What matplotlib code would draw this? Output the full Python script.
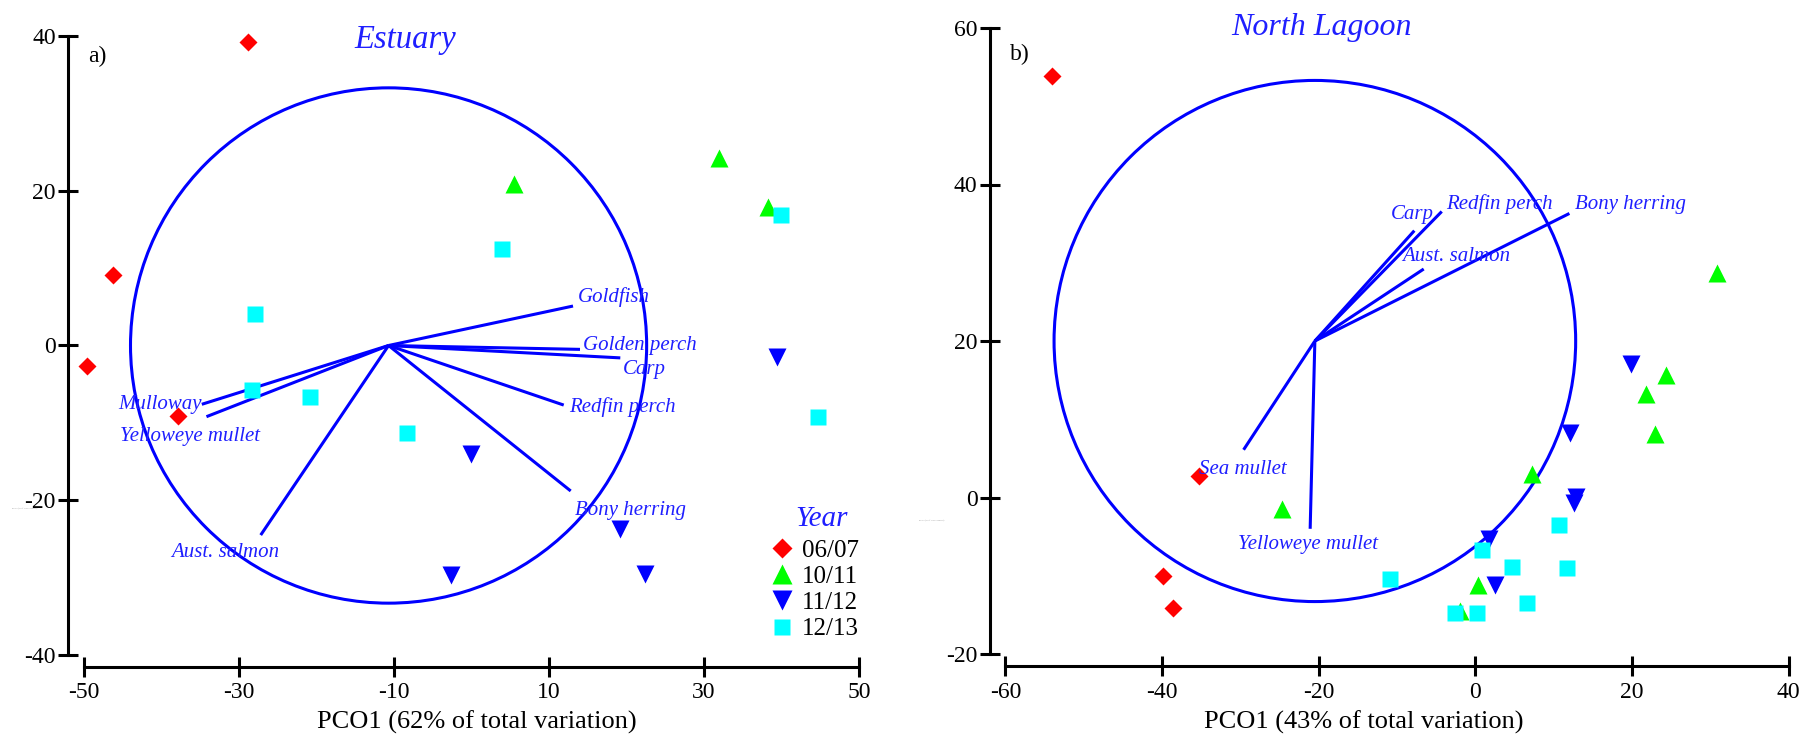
import matplotlib
matplotlib.use("Agg")
import matplotlib.pyplot as plt
from matplotlib.patches import Circle
from matplotlib.lines import Line2D

plt.rcParams['font.family'] = ['Liberation Serif', 'DejaVu Serif']
plt.rcParams['axes.unicode_minus'] = False

# ---------------- data ----------------
years = ["06/07", "10/11", "11/12", "12/13"]

# Estuary PCO scores
est_0607_x = [-28.8, -46.2, -49.6, -37.9]
est_0607_y = [39.2, 9.15, -2.7, -9.1]
est_1011_x = [5.45, 31.9, 38.3]
est_1011_y = [20.9, 24.2, 17.9]
est_1112_x = [0.0, -2.7, 19.2, 39.4, 22.4]
est_1112_y = [-14.0, -29.6, -23.7, -1.5, -29.5]
est_1213_x = [-27.9, -28.3, -20.9, -8.3, 3.9, 39.9, 44.7]
est_1213_y = [4.1, -5.8, -6.6, -11.3, 12.5, 16.9, -9.2]

# Estuary species vectors
est_species = ["Goldfish", "Golden perch", "Carp", "Redfin perch",
               "Bony herring", "Mulloway", "Yelloweye mullet", "Aust. salmon"]
est_vec_x = [13.1, 14.0, 19.2, 11.9, 12.8, -34.8, -34.2, -27.2]
est_vec_y = [5.1, -0.5, -1.6, -7.7, -18.8, -7.6, -9.2, -24.5]
est_origin = (-10.7, 0.0)
est_radius = 33.3

# North Lagoon PCO scores
nl_0607_x = [-54.1, -35.25, -39.85, -38.65]
nl_0607_y = [53.9, 2.7, -10.0, -14.1]
nl_1011_x = [-24.7, 7.2, 0.3, -1.95, 30.8, 24.3, 21.8, 22.9]
nl_1011_y = [-1.5, 3.0, -11.2, -14.5, 28.7, 15.6, 13.2, 8.1]
nl_1112_x = [12.9, 12.6, 1.7, 2.5, 19.9, 12.1]
nl_1112_y = [0.1, -0.7, -5.3, -11.2, 17.1, 8.2]
nl_1213_x = [0.8, 4.65, 10.7, 11.75, -10.9, 6.6, -2.6, 0.25]
nl_1213_y = [-6.7, -8.9, -3.5, -9.0, -10.4, -13.5, -14.7, -14.8]

# North Lagoon species vectors
nl_species = ["Carp", "Redfin perch", "Aust. salmon", "Bony herring",
              "Sea mullet", "Yelloweye mullet"]
nl_vec_x = [-7.8, -4.3, -6.6, 12.0, -29.6, -21.1]
nl_vec_y = [34.1, 36.55, 29.2, 36.3, 6.1, -4.0]
nl_origin = (-20.5, 20.0)
nl_radius = 33.3

# ---------------- layout / style ----------------
est_label_pos = [(13.7, 6.2), (14.4, 0.05), (19.5, -3.05), (12.6, -8.0),
                 (13.35, -21.3), (-45.6, -7.6), (-45.3, -11.7), (-38.7, -26.8)]
nl_label_pos = [(-10.8, 36.2), (-3.7, 37.5), (-9.3, 30.8), (12.7, 37.5),
                (-35.25, 3.6), (-30.3, -6.0)]

year_styles = [
    dict(marker='D', color='#ff0000', ms=9.2),
    dict(marker='^', color='#00ff00', ms=12.5),
    dict(marker='v', color='#0000ff', ms=12.5),
    dict(marker='s', color='#00ffff', ms=12.0),
]
VEC_BLUE = '#0000ff'
TXT_BLUE = '#1f1fff'
LW = 2.2

fig = plt.figure(figsize=(18.06, 7.37), dpi=100)
W, H = 1806.0, 737.0
ax1 = fig.add_axes([84 / W, 1 - 655 / H, 775 / W, 619 / H])
ax2 = fig.add_axes([1005.5 / W, 1 - 654 / H, 783.2 / W, 626 / H])


def style_axes(ax, xlim, ylim, xticks, yticks):
    ax.set_xlim(*xlim)
    ax.set_ylim(*ylim)
    ax.set_facecolor('none')
    for s in ('top', 'right'):
        ax.spines[s].set_visible(False)
    ax.spines['left'].set_position(('outward', 11.5))
    ax.spines['bottom'].set_position(('outward', 8.6))
    for s in ('left', 'bottom'):
        ax.spines[s].set_linewidth(LW)
    ax.set_xticks(xticks)
    ax.set_yticks(yticks)
    ax.tick_params(direction='inout', length=14.4, width=LW,
                   labelsize=17, pad=1.5, colors='black')
    ax.tick_params(axis='x', pad=4)


def draw_panel(ax, series_x, series_y, species, vx, vy, origin, radius,
               label_pos):
    circ = Circle(origin, radius, fill=False, ec=VEC_BLUE, lw=LW, zorder=2)
    ax.add_patch(circ)
    for name, ex, ey, (lx, ly) in zip(species, vx, vy, label_pos):
        ax.plot([origin[0], ex], [origin[1], ey], color=VEC_BLUE, lw=LW,
                solid_capstyle='butt', zorder=2)
        ax.text(lx, ly, name, ha='left', va='center', style='italic',
                color=TXT_BLUE, fontsize=15, zorder=4)
    for xs, ys, st in zip(series_x, series_y, year_styles):
        ax.plot(xs, ys, ls='none', marker=st['marker'], ms=st['ms'],
                color=st['color'], mec='none', clip_on=False, zorder=3)


# Panel a) Estuary
style_axes(ax1, (-50, 50), (-40, 40), [-50, -30, -10, 10, 30, 50],
           [-40, -20, 0, 20, 40])
draw_panel(ax1,
           [est_0607_x, est_1011_x, est_1112_x, est_1213_x],
           [est_0607_y, est_1011_y, est_1112_y, est_1213_y],
           est_species, est_vec_x, est_vec_y, est_origin, est_radius,
           est_label_pos)
ax1.text(0.415, 0.980, "Estuary", transform=ax1.transAxes, ha='center',
         va='baseline', style='italic', color=TXT_BLUE, fontsize=23.5)
ax1.text(0.005, 0.958, "a)", transform=ax1.transAxes, ha='left',
         va='baseline', fontsize=17)
ax1.set_xlabel("PCO1 (62% of total variation)", fontsize=19)
ax1.xaxis.set_label_coords(0.507, -0.090)

# Panel b) North Lagoon
style_axes(ax2, (-60, 40), (-20, 60), [-60, -40, -20, 0, 20, 40],
           [-20, 0, 20, 40, 60])
draw_panel(ax2,
           [nl_0607_x, nl_1011_x, nl_1112_x, nl_1213_x],
           [nl_0607_y, nl_1011_y, nl_1112_y, nl_1213_y],
           nl_species, nl_vec_x, nl_vec_y, nl_origin, nl_radius,
           nl_label_pos)
ax2.text(0.404, 0.989, "North Lagoon", transform=ax2.transAxes, ha='center',
         va='baseline', style='italic', color=TXT_BLUE, fontsize=23)
ax2.text(0.006, 0.949, "b)", transform=ax2.transAxes, ha='left',
         va='baseline', fontsize=17)
ax2.set_xlabel("PCO1 (43% of total variation)", fontsize=19)
ax2.xaxis.set_label_coords(0.458, -0.091)

# Year legend on the estuary panel
legend_ms = [10.4, 14.4, 14.4, 11.5]
handles = [Line2D([], [], ls='none', marker=st['marker'], color=st['color'],
                  mec='none', ms=m) for st, m in zip(year_styles, legend_ms)]
leg = ax1.legend(handles, years, loc='upper left',
                 bbox_to_anchor=(0.8845, 0.1870), frameon=False, fontsize=18,
                 handlelength=1.0, handletextpad=0.3, labelspacing=0.15,
                 borderpad=0, borderaxespad=0)
ax1.text(0.952, 0.2084, "Year", transform=ax1.transAxes, ha='center',
         va='baseline', style='italic', color=TXT_BLUE, fontsize=21)

# Vertical-axis captions (printed very small)
fig.text(12 / W, 1 - 508 / H, "PCO2 (% of total variation)", fontsize=1.6,
         color='0.55', va='center', ha='left')
fig.text(919 / W, 1 - 520 / H, "PCO2 (% of total variation)", fontsize=1.6,
         color='0.55', va='center', ha='left')

fig.savefig("out.png", dpi=100)
